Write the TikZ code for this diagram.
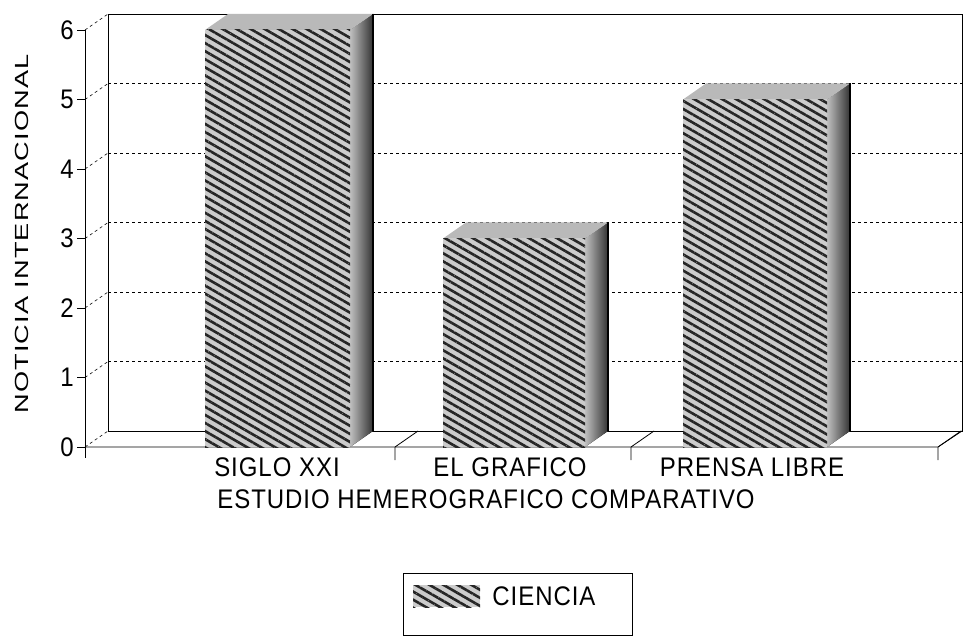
\documentclass[tikz,border=0pt]{standalone}
\usepackage{graphicx}
\usepackage{fontspec}
\setmainfont{Liberation Sans}[LetterSpace=4]
\usetikzlibrary{patterns.meta}

\tikzset{
    barfront/.style={preaction={fill=gray!40}, pattern={Lines[angle=-30,distance=7pt,line width=2.6pt]}, pattern color=black!85},
    barside/.style={left color=gray!50, right color=black!80},
    bartop/.style={fill=gray!55},
    gridline/.style={dash pattern=on 3pt off 3pt, line width=0.9pt},
    depthline/.style={dashed, line width=0.6pt},
    lbl/.style={font=\fontsize{24}{28}\selectfont, inner sep=0pt},
}
\newcommand{\tall}[1]{\scalebox{1}[1.12]{#1}}

\begin{document}
\begin{tikzpicture}[x=1pt, y=-1pt, line width=0.8pt]
            \useasboundingbox (0,0) rectangle (966,636);

            % walls and floor
            \draw[line width=0.5pt] (108,431) -- (108,14);
            \draw[] (108,14) -- (962,14) -- (962,431) -- (108,431);
            \draw[] (85,447) -- (938,447) -- (962,431);
            \draw[] (85,30) -- (85,458);
            \foreach \v in {1,...,5} {
                \draw[gridline] (108,{431-69.5*\v}) -- (962,{431-69.5*\v});
            }
            \foreach \v in {0,...,6} {
                \pgfmathsetmacro\yf{447-69.5*\v}
                \draw[] (77,\yf) -- (85,\yf);
                \draw[depthline] (85,\yf) -- (108,\yf-16);
                \node[lbl, anchor=east] (tick\v) at (74,\yf) {\tall{\v}};
            }
            \foreach \x in {395, 631, 938} {
                \draw[] (\x,447) -- (\x,460) (\x,447) -- (\x+23,431);
            }

            % bars
            \foreach \xl/\xr/\v in {205/350/6, 443/585/3, 683/827/5} {
                \pgfmathsetmacro\yt{447-69.5*\v}
                \fill[barside] (\xr,447) -- (\xr,\yt) -- (\xr+23,\yt-16) -- (\xr+23,431) -- cycle;
                \fill[bartop] (\xl,\yt) -- (\xr,\yt) -- (\xr+23,\yt-16) -- (\xl+23,\yt-16) -- cycle;
                \path[barfront] (\xl,447) rectangle (\xr,\yt);
                \draw[line width=1.2pt] (\xr+23,\yt-16) -- (\xr+23,431);
            }

            \node[lbl] (siglo) at (277,467) {\tall{SIGLO XXI}};
            \node[lbl] (grafico) at (510,467) {\tall{EL GRAFICO}};
            \node[lbl] (prensa) at (752,467) {\tall{PRENSA LIBRE}};
            \node[lbl] (estudio) at (486,499) {\tall{ESTUDIO HEMEROGRAFICO COMPARATIVO}};
            \node[lbl, rotate=90] (noticia) at (22,234) {\scalebox{1.43}[1]{\fontsize{19}{22}\selectfont NOTICIA INTERNACIONAL}};

            % legend
            \draw[] (403,573) rectangle (632,635);
            \path[barfront] (413,585) rectangle (480,607);
            \node[lbl, anchor=west] (ciencia) at (492,596) {\tall{CIENCIA}};
\end{tikzpicture}
\end{document}
